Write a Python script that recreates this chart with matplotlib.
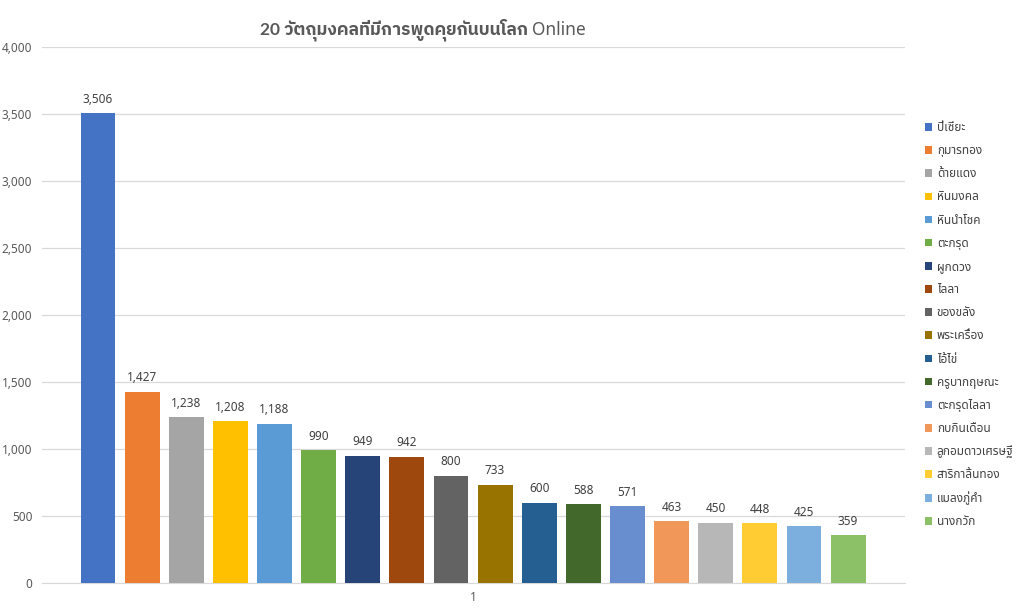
import matplotlib
matplotlib.use('Agg')
import matplotlib.pyplot as plt
import numpy as np

plt.rcParams['font.family'] = ['Noto Sans', 'Noto Sans Thai', 'DejaVu Sans']

title_main = '20 วัตถุมงคลที่มีการพูดคุยกันบนโลก'
title_tail = 'Online'
names = ['ปี่เซียะ', 'กุมารทอง', 'ด้ายแดง', 'หินมงคล', 'หินนำโชค', 'ตะกรุด',
         'ผูกดวง', 'ไลลา', 'ของขลัง', 'พระเครื่อง', 'ไอ้ไข่', 'ครูบากฤษณะ',
         'ตะกรุดไลลา', 'กบกินเดือน', 'ลูกอมดาวเศรษฐี', 'สาริกาลิ้นทอง',
         'แมลงภู่คำ', 'นางกวัก']
counts = [3506, 1427, 1238, 1208, 1188, 990, 949, 942, 800, 733, 600, 588,
          571, 463, 450, 448, 425, 359]
colors = ['#4472C4', '#ED7D31', '#A5A5A5', '#FFC000', '#5B9BD5', '#70AD47',
          '#264478', '#9E480E', '#636363', '#997300', '#255E91', '#43682B',
          '#698ED0', '#F1975A', '#B7B7B7', '#FFCD33', '#7CAFDD', '#8CC168']

fig = plt.figure(figsize=(10.24, 6.14), dpi=100)
ax = fig.add_axes([42 / 1024, 1 - 583 / 614, 863 / 1024, 536 / 614])

x = np.arange(len(counts))
for i, (n, c, col) in enumerate(zip(names, counts, colors)):
    ax.bar(x[i], c, width=0.79, color=col, label=n, zorder=3)
    ax.text(x[i], c + 55, f'{c:,}', ha='center', va='bottom', fontsize=8.5, color='#404040')

ax.set_xlim(-1.27, 18.29)
ax.set_ylim(0, 4000)
ax.set_yticks(np.arange(0, 4001, 500))
ax.set_yticklabels([f'{v:,}' for v in range(0, 4001, 500)], fontsize=8.5, color='#595959')
ax.set_xticks([8.5])
ax.set_xticklabels(['1'], fontsize=8.5, color='#595959')
ax.tick_params(axis='y', length=0, pad=7)
ax.tick_params(axis='x', length=0, pad=6)
ax.grid(axis='y', color='#D9D9D9', linewidth=0.9, zorder=0)
for s in ['top', 'right', 'left']:
    ax.spines[s].set_visible(False)
ax.spines['bottom'].set_color('#D9D9D9')

# title: thai part is bold in the original, "Online" is regular
fig.text(528 / 1024, 1 - 30 / 614, title_main, ha='right', va='center', fontsize=12.5,
         color='#595959', fontweight='bold', family=['Lato', 'IBM Plex Sans Thai'])
fig.text(532 / 1024, 1 - 30 / 614, title_tail, ha='left', va='center', fontsize=12.5,
         color='#595959')

ax.legend(loc='upper left', bbox_to_anchor=(925 / 1024, 1 - 121 / 614), bbox_transform=fig.transFigure,
          frameon=False, fontsize=8.5, handlelength=0.6, handleheight=0.6, handletextpad=0.4,
          labelspacing=0.86, labelcolor='#404040', borderaxespad=0, borderpad=0)

fig.savefig('out.png')
